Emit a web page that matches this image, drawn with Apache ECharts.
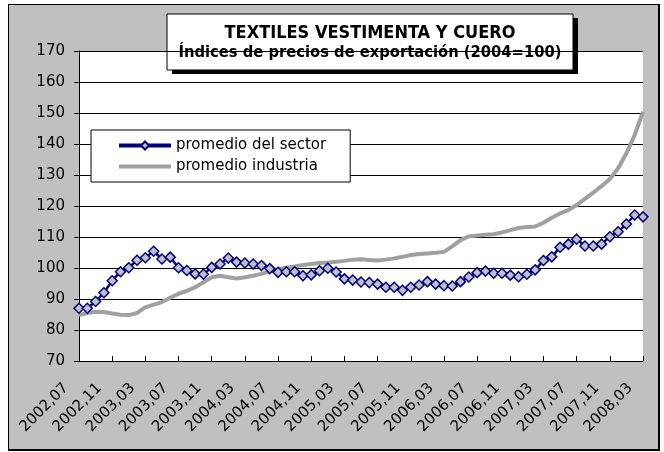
<!DOCTYPE html>
<html>
<head>
<meta charset="utf-8">
<script src="https://cdn.jsdelivr.net/npm/echarts@6/dist/echarts.min.js"></script>
<style>
    body { margin: 0; background: #fff; }
    #frame { position: absolute; left: 8px; top: 4px; width: 649px; height: 444px; background: #c0c0c0; border: 1px solid #000; border-right-width: 2px; border-bottom-width: 2px; }
    #main { position: absolute; left: 0; top: 0; width: 664px; height: 452px; }
</style>
</head>
<body>
<div id="frame"></div>
<div id="main"></div>
<script>
// months 2002,07 .. 2008,03
let months = [
    '2002,07', '2002,08', '2002,09', '2002,10', '2002,11', '2002,12',
    '2003,01', '2003,02', '2003,03', '2003,04', '2003,05', '2003,06', '2003,07', '2003,08', '2003,09', '2003,10', '2003,11', '2003,12',
    '2004,01', '2004,02', '2004,03', '2004,04', '2004,05', '2004,06', '2004,07', '2004,08', '2004,09', '2004,10', '2004,11', '2004,12',
    '2005,01', '2005,02', '2005,03', '2005,04', '2005,05', '2005,06', '2005,07', '2005,08', '2005,09', '2005,10', '2005,11', '2005,12',
    '2006,01', '2006,02', '2006,03', '2006,04', '2006,05', '2006,06', '2006,07', '2006,08', '2006,09', '2006,10', '2006,11', '2006,12',
    '2007,01', '2007,02', '2007,03', '2007,04', '2007,05', '2007,06', '2007,07', '2007,08', '2007,09', '2007,10', '2007,11', '2007,12',
    '2008,01', '2008,02', '2008,03'
];

let promedioSector = [
    87.0, 87.0, 89.2, 92.0, 95.9, 98.8, 100.1, 102.5, 103.3, 105.4,
    102.9, 103.5, 100.1, 99.2, 98.1, 98.0, 100.2, 101.3, 103.2, 101.9,
    101.6, 101.3, 100.8, 99.8, 98.6, 98.8, 98.8, 97.5, 97.8, 99.1,
    99.9, 98.7, 96.5, 96.1, 95.5, 95.3, 94.8, 93.8, 93.8, 92.8,
    93.8, 94.5, 95.6, 94.8, 94.3, 94.2, 95.6, 97.1, 98.5, 99.0,
    98.3, 98.3, 97.7, 97.2, 98.0, 99.4, 102.4, 103.6, 106.7, 107.7,
    109.3, 107.1, 107.1, 107.7, 110.1, 111.7, 114.2, 117.1, 116.5
];

let promedioIndustria = [
    84.8, 85.5, 85.9, 85.8, 85.3, 84.9, 84.8, 85.5, 87.3, 88.2,
    89.0, 90.4, 91.7, 92.6, 93.8, 95.4, 97.0, 97.5, 97.0, 96.6,
    97.0, 97.5, 98.1, 99.0, 99.6, 100.1, 100.5, 101.0, 101.3, 101.6,
    101.8, 102.0, 102.3, 102.7, 102.8, 102.6, 102.4, 102.7, 103.1, 103.6,
    104.2, 104.5, 104.7, 104.9, 105.2, 107.0, 109.0, 110.2, 110.5, 110.7,
    110.9, 111.5, 112.2, 112.9, 113.2, 113.4, 114.6, 116.2, 117.6, 118.7,
    120.3, 122.3, 124.3, 126.4, 128.7, 132.2, 137.0, 142.9, 150.4
];

let titleText = 'TEXTILES VESTIMENTA Y CUERO';
let subText = 'Índices de precios de exportación (2004=100)';

let font = 'DejaVu Sans';
let titleFont = 'DejaVu Sans Condensed';

function drawChart() {
    var myChart = echarts.init(document.getElementById('main'));

    var option = {
        animation: false,
        backgroundColor: 'transparent',
        grid: {
            left: 79,
            right: 21,
            top: 51,
            bottom: 91,
            show: true,
            backgroundColor: '#fff',
            borderWidth: 0,
            outerBoundsMode: 'none'
        },
        legend: {
            orient: 'vertical',
            left: 91,
            top: 130,
            padding: [8, 24, 8, 26],
            itemGap: 6,
            itemWidth: 52,
            itemHeight: 10,
            backgroundColor: '#fff',
            borderColor: '#000',
            borderWidth: 1,
            textStyle: { fontFamily: font, fontSize: 15, color: '#000' },
            data: [
                { name: 'promedio del sector', lineStyle: { width: 4 } },
                { name: 'promedio industria', lineStyle: { width: 4 }, itemStyle: { color: 'transparent', borderWidth: 0, opacity: 0 } }
            ]
        },
        xAxis: {
            type: 'category',
            data: months,
            boundaryGap: false,
            axisLine: { lineStyle: { color: '#000', width: 1 } },
            axisTick: { inside: true, length: 5, interval: 3, lineStyle: { color: '#000' } },
            axisLabel: {
                interval: 3,
                rotate: 45,
                margin: 12,
                padding: [0, 18, 0, 0],
                color: '#000',
                fontFamily: font,
                fontSize: 15
            },
            splitLine: { show: false }
        },
        yAxis: {
            type: 'value',
            min: 70,
            max: 170,
            interval: 10,
            axisLine: { show: true, lineStyle: { color: '#000', width: 1 } },
            axisTick: { show: true, length: 5, lineStyle: { color: '#000' } },
            axisLabel: { margin: 14, color: '#000', fontFamily: font, fontSize: 15 },
            splitLine: { lineStyle: { color: '#000', width: 1 } }
        },
        series: [
            {
                name: 'promedio del sector',
                type: 'line',
                data: promedioSector,
                z: 4,
                symbol: 'diamond',
                symbolSize: 10,
                showAllSymbol: true,
                lineStyle: { color: '#000080', width: 2.5 },
                itemStyle: { color: '#c0c0c0', borderColor: '#000080', borderWidth: 1.5 }
            },
            {
                name: 'promedio industria',
                type: 'line',
                data: promedioIndustria,
                z: 3,
                symbol: 'none',
                lineStyle: { color: '#a0a0a0', width: 4 },
                itemStyle: { color: '#a0a0a0' }
            }
        ],
        graphic: [
            {
                type: 'group',
                z: 100,
                children: [
                    // shadow box
                    {
                        type: 'rect',
                        shape: { x: 172, y: 18, width: 406, height: 56 },
                        style: { fill: '#000' }
                    },
                    {
                        type: 'rect',
                        shape: { x: 167, y: 14, width: 406, height: 56 },
                        style: { fill: '#fff', stroke: '#000', lineWidth: 1 }
                    },
                    {
                        type: 'text',
                        style: {
                            x: 370, y: 33, text: titleText, align: 'center', verticalAlign: 'middle',
                            fontFamily: titleFont, fontWeight: 'bold', fontSize: 18, fill: '#000'
                        }
                    },
                    {
                        type: 'text',
                        style: {
                            x: 370, y: 53, text: subText, align: 'center', verticalAlign: 'middle',
                            fontFamily: titleFont, fontWeight: 'bold', fontSize: 16.4, fill: '#000'
                        }
                    }
                ]
            }
        ]
    };

    myChart.setOption(option);
}

drawChart();
</script>
</body>
</html>
